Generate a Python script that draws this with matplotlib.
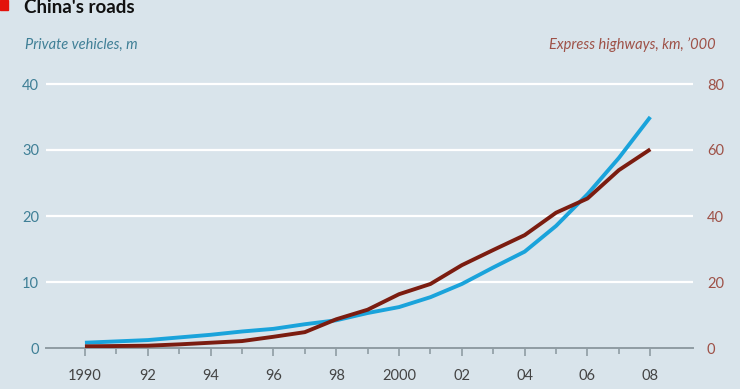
import matplotlib.pyplot as plt
import matplotlib.patches as mpatches
import numpy as np

# China's roads: private vehicles (m) and express highways (km, '000)
years = np.arange(1990, 2009)
vehicles = [0.8, 1.0, 1.2, 1.6, 2.0, 2.5, 2.9, 3.6, 4.2, 5.3, 6.2,
            7.7, 9.7, 12.2, 14.6, 18.5, 23.3, 28.8, 35.0]
highways = [0.5, 0.6, 0.7, 1.1, 1.6, 2.1, 3.4, 4.8, 8.7, 11.6, 16.3,
            19.4, 25.1, 29.7, 34.2, 41.0, 45.3, 53.9, 60.2]

left_ticks = [0, 10, 20, 30, 40]
right_ticks = [0, 20, 40, 60, 80]
xtick_years = list(range(1990, 2009, 2))
xtick_labels = ['1990', '92', '94', '96', '98', '2000', '02', '04', '06', '08']

BG = '#d9e4eb'
BLUE = '#1aa3db'
RED = '#7b1c10'
TEAL = '#3f7f96'
BROWN = '#9e5147'

plt.rcParams['font.family'] = ['Lato', 'DejaVu Sans']

fig = plt.figure(figsize=(7.4, 3.89), dpi=100, facecolor=BG)
W, H = 740, 389
ax = fig.add_axes([46 / W, 1 - 348 / H, (693 - 46) / W, (348 - 77.4) / H])
ax.set_facecolor(BG)

ax.set_xlim(1988.76, 2009.36)
ax.set_ylim(0, 41)

for v in left_ticks[1:]:
    ax.axhline(v, color='white', lw=1.6, zorder=1)

ax.plot(years, vehicles, color=BLUE, lw=2.8, zorder=3, solid_capstyle='butt')

ax2 = ax.twinx()
ax2.set_ylim(0, 82)
ax2.plot(years, highways, color=RED, lw=2.8, zorder=4, solid_capstyle='butt')

for a in (ax, ax2):
    for s in ('top', 'right', 'left'):
        a.spines[s].set_visible(False)
ax2.spines['bottom'].set_visible(False)
ax.spines['bottom'].set_color('#8f9ca3')
ax.spines['bottom'].set_linewidth(1.4)

ax.set_yticks(left_ticks)
ax.set_yticklabels([str(t) for t in left_ticks], color=TEAL, fontsize=10.5)
ax.tick_params(axis='y', length=0, pad=5)
ax2.set_yticks(right_ticks)
ax2.set_yticklabels([str(t) for t in right_ticks], color=BROWN, fontsize=10.5)
ax2.tick_params(axis='y', length=0, pad=10)

ax.set_xticks(xtick_years)
ax.set_xticklabels(xtick_labels, color='#444444', fontsize=10.5)
ax.set_xticks(range(1991, 2009, 2), minor=True)
ax.tick_params(axis='x', which='major', length=6, width=1.2, color='#8f9ca3', pad=9)
ax.tick_params(axis='x', which='minor', length=4, width=1.2, color='#8f9ca3')

# titles (title kept fully inside the figure)
fig.text(24 / W, 1 - 13 / H, "China's roads", fontsize=13.5, fontweight='bold',
         color='#111111', va='baseline', ha='left')
fig.patches.append(mpatches.Rectangle((0, 1 - 10 / H), 8 / W, 10 / H,
                                      transform=fig.transFigure, color='#e3120b'))
fig.text(25 / W, 1 - 49 / H, 'Private vehicles, m', fontsize=10.5, style='italic',
         color=TEAL, va='baseline', ha='left')
fig.text(716 / W, 1 - 49 / H, "Express highways, km, \u2019000", fontsize=10.5,
         style='italic', color=BROWN, va='baseline', ha='right')

fig.savefig('out.png', dpi=100, facecolor=BG)
